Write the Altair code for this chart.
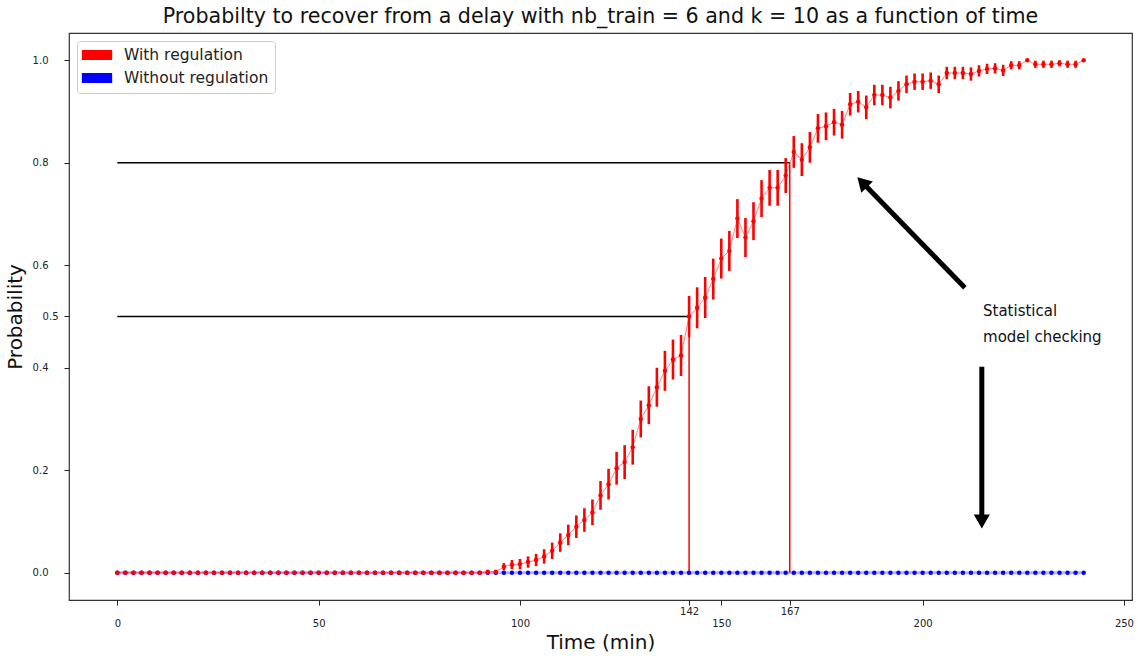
import altair as alt
import pandas as pd

# ---------------- data ----------------
time_min = list(range(0, 241, 2))  # sampling grid: every 2 minutes, 0..240

with_regulation = [0.0] * 46 + [
    0.002, 0.002, 0.012, 0.016, 0.017, 0.021, 0.025, 0.032, 0.043, 0.059,
    0.074, 0.090, 0.103, 0.118, 0.151, 0.173, 0.204, 0.216,
    0.245, 0.300, 0.327, 0.362, 0.394, 0.416, 0.424, 0.500, 0.517, 0.537,
    0.573, 0.613, 0.628, 0.691, 0.654, 0.686,
    0.730, 0.751, 0.751, 0.775, 0.821, 0.806, 0.830, 0.867, 0.871, 0.879,
    0.874, 0.914, 0.919, 0.908, 0.932, 0.932, 0.927, 0.940, 0.953, 0.958,
    0.958, 0.960, 0.953, 0.975, 0.975, 0.975, 0.973, 0.979, 0.983, 0.984,
    0.980, 0.990, 0.990, 1.000, 0.992, 0.992, 0.992, 0.994, 0.992, 0.992,
    1.000,
]

error_with = [0.0] * 46 + [
    0.0, 0.0, 0.007, 0.009, 0.010, 0.011, 0.012, 0.014, 0.016, 0.018,
    0.020, 0.022, 0.023, 0.025, 0.028, 0.030, 0.032, 0.033,
    0.034, 0.036, 0.037, 0.038, 0.039, 0.039, 0.040, 0.040, 0.040, 0.040,
    0.040, 0.039, 0.039, 0.038, 0.038, 0.037,
    0.036, 0.035, 0.035, 0.034, 0.031, 0.032, 0.030, 0.028, 0.027, 0.026,
    0.027, 0.022, 0.021, 0.023, 0.020, 0.020, 0.021, 0.019, 0.017, 0.016,
    0.016, 0.016, 0.017, 0.012, 0.012, 0.012, 0.013, 0.011, 0.010, 0.010,
    0.011, 0.008, 0.008, 0.0, 0.007, 0.007, 0.007, 0.006, 0.007, 0.007,
    0.0,
]

without_regulation = [0.0] * 121

series_names = ["With regulation", "Without regulation"]
series_colors = ["#ff0000", "#0000ff"]

x_ticks = [0, 50, 100, 142, 150, 167, 200, 250]
y_ticks = [0.0, 0.2, 0.4, 0.5, 0.6, 0.8, 1.0]

# reference lines (threshold probabilities and the times they are reached)
thr_prob = [0.5, 0.8]
thr_time = [142, 167]

# annotation: arrows and text
arrow_x = [210.5, 214.7]
arrow_y = [0.556, 0.402]
arrow_x2 = [185.6, 214.7]
arrow_y2 = [0.757, 0.106]
head_x = [185.0, 214.7]
head_y = [0.762, 0.100]
head_angle = [316, 180]
note_lines = ["Statistical", "model checking"]
note_x = [215.0, 215.0]
note_y = [0.511, 0.460]

TITLE = "Probabilty to recover from a delay with nb_train = 6 and k = 10 as a function of time"
FONT = "DejaVu Sans"

# ---------------- tables ----------------
n = len(time_min)
points_df = pd.DataFrame({
    "time": time_min * 2,
    "prob": without_regulation + with_regulation,
    "series": [series_names[1]] * n + [series_names[0]] * n,
})
red_df = pd.DataFrame({"time": time_min, "prob": with_regulation, "err": error_with})
red_df["lo"] = red_df["prob"] - red_df["err"]
red_df["hi"] = red_df["prob"] + red_df["err"]
red_err_df = red_df[red_df["err"] > 0]
blue_df = pd.DataFrame({"time": time_min, "prob": without_regulation})

thr_df = pd.DataFrame({"t": thr_time, "p": thr_prob, "zero": [0, 0]})
arrow_df = pd.DataFrame({"x": arrow_x, "y": arrow_y, "x2": arrow_x2, "y2": arrow_y2})
head_df = pd.DataFrame({"x": head_x, "y": head_y, "angle": head_angle})
note_df = pd.DataFrame({"x": note_x, "y": note_y, "text": note_lines})

# ---------------- scales & axes ----------------
xs = alt.Scale(domain=[-12, 252], nice=False, zero=False)
ys = alt.Scale(domain=[-0.053, 1.053], nice=False, zero=False)

x_axis = alt.Axis(
    values=x_ticks, title="Time (min)", grid=False, domain=False,
    tickSize=5, tickColor="#222", labelFontSize=10, labelColor="#222",
    labelFont=FONT, titleFont=FONT, titleFontSize=20, titleFontWeight="normal",
    titleColor="#111", titlePadding=4,
    labelPadding={"condition": {"test": "datum.value == 142 || datum.value == 167", "value": 1}, "value": 13},
)
y_axis = alt.Axis(
    values=y_ticks, title="Probability", grid=False, domain=False, format=".1f",
    tickSize=5, tickColor="#222", labelFontSize=10, labelColor="#222",
    labelFont=FONT, titleFont=FONT, titleFontSize=20, titleFontWeight="normal",
    titleColor="#111", titlePadding=7,
    labelPadding={"condition": {"test": "datum.value == 0.5", "value": 6}, "value": 16},
)

X = lambda f="time": alt.X(f, type="quantitative", scale=xs, axis=x_axis)
Y = lambda f="prob": alt.Y(f, type="quantitative", scale=ys, axis=y_axis)

blue_line = alt.Chart(blue_df).mark_line(color="#0000ff", strokeWidth=3, opacity=0.3).encode(x=X(), y=Y())
red_line = alt.Chart(red_df).mark_line(color="#ff0000", strokeWidth=1, opacity=0.5).encode(x=X(), y=Y())
red_err = alt.Chart(red_err_df).mark_rule(color="#ff0000", strokeWidth=2.6).encode(
    x=X(), y=Y("lo"), y2="hi")

points = alt.Chart(points_df).mark_circle(size=20, opacity=1).encode(
    x=X(), y=Y(),
    color=alt.Color("series:N", sort=series_names,
                    scale=alt.Scale(domain=series_names, range=series_colors),
                    legend=alt.Legend(
                        orient="top-left", offset=8, title=None,
                        symbolType="M-2,-0.66H2V0.66H-2Z", symbolSize=230,
                        symbolStrokeWidth=0, symbolOpacity=1,
                        labelFontSize=15.5, labelFont=FONT, labelColor="#222",
                        padding=6, rowPadding=6, strokeColor="#cccccc",
                        fillColor="white", cornerRadius=3,
                        symbolOffset=6, labelOffset=19,
                    )),
    order=alt.Order("series:N", sort="descending"),
)

h_lines = alt.Chart(thr_df).mark_rule(color="black", strokeWidth=1.5).encode(
    x=X("zero"), x2="t", y=Y("p"))
v_lines = alt.Chart(thr_df).mark_rule(color="#ff0000", strokeWidth=1.5).encode(
    x=X("t"), y=Y("zero"), y2="p")

arrows = alt.Chart(arrow_df).mark_rule(color="black", strokeWidth=5).encode(
    x=X("x"), y=Y("y"), x2="x2", y2="y2")
heads = alt.Chart(head_df).mark_point(shape="triangle-up", filled=True, color="black",
                                      size=260, opacity=1).encode(
    x=X("x"), y=Y("y"), angle=alt.Angle("angle:Q", scale=None))
notes = alt.Chart(note_df).mark_text(align="left", baseline="middle", fontSize=15,
                                     font=FONT, color="#111").encode(
    x=X("x"), y=Y("y"), text="text:N")

chart = alt.layer(
    blue_line, h_lines, v_lines, red_line, red_err, points, arrows, heads, notes
).properties(
    width=1063, height=567,
    background="white",
    title=alt.TitleParams(TITLE, fontSize=20.6, fontWeight="normal", font=FONT,
                          anchor="middle", offset=5, color="#111"),
    autosize=alt.AutoSizeParams(type="none"),
    padding={"left": 69, "top": 33, "right": 6, "bottom": 59},
).configure_view(
    stroke="#333", strokeWidth=1.2, strokeOpacity=1
)

chart.save("out.html", embed_options={"renderer": "svg", "actions": False})
